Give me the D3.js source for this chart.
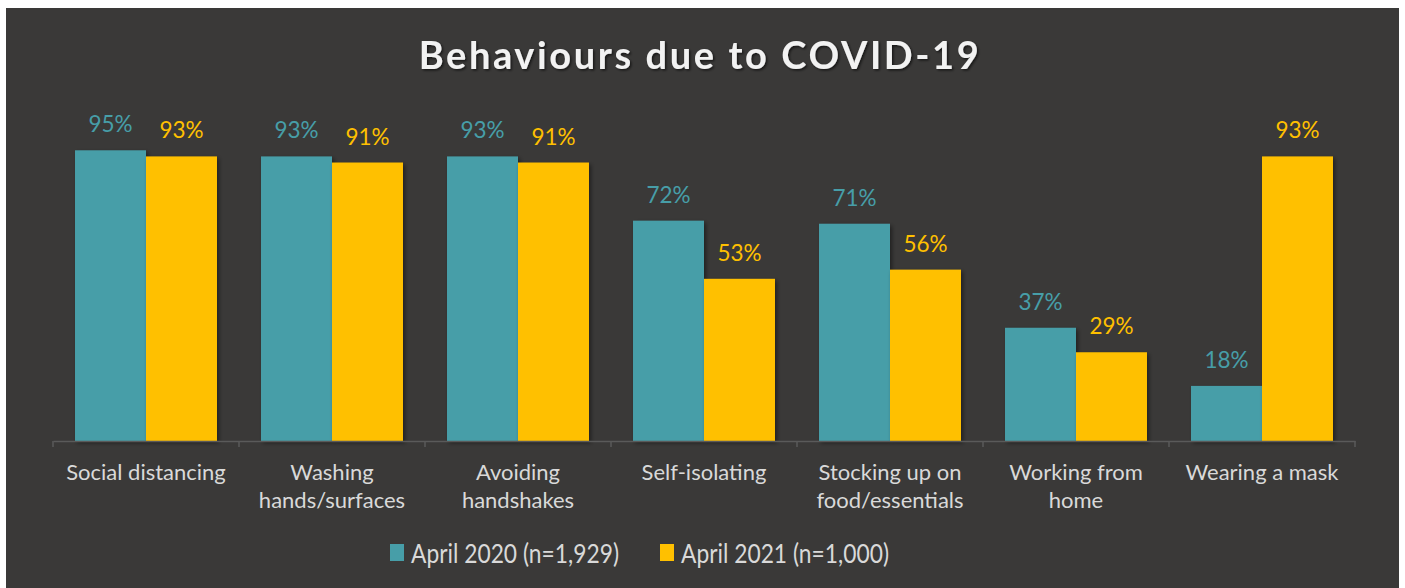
<!DOCTYPE html>
<html><head><meta charset="utf-8">
<script src="https://cdn.jsdelivr.net/npm/d3@7/dist/d3.min.js"></script>
<style>
html,body{margin:0;padding:0;background:#fff;}
svg{display:block;}
text{font-family:Lato,"Open Sans",sans-serif;}
</style></head>
<body>
<svg id="chart" width="1405" height="588"></svg>
<script>
const categories = [["Social distancing"],["Washing","hands/surfaces"],["Avoiding","handshakes"],["Self-isolating"],["Stocking up on","food/essentials"],["Working from","home"],["Wearing a mask"]];
const seriesNames = ["April 2020 (n=1,929)","April 2021 (n=1,000)"];
const values2020 = [95,93,93,72,71,37,18];
const values2021 = [93,91,91,53,56,29,93];
const colors = ["#479ea8","#ffc000"];
const title = "Behaviours due to COVID-19";

const svg = d3.select("#chart");
const defs = svg.append("defs");
const f = defs.append("filter").attr("id","sh").attr("x","-10%").attr("y","-10%").attr("width","130%").attr("height","130%");
f.append("feDropShadow").attr("dx",2).attr("dy",2).attr("stdDeviation",2).attr("flood-color","#000").attr("flood-opacity",0.45);
const ft = defs.append("filter").attr("id","tsh");
ft.append("feDropShadow").attr("dx",1.5).attr("dy",1.5).attr("stdDeviation",1.2).attr("flood-color","#000").attr("flood-opacity",0.6);

svg.append("rect").attr("x",6).attr("y",8).attr("width",1393).attr("height",580).attr("fill","#3a3938");

svg.append("text").attr("x",700).attr("y",69).attr("text-anchor","middle")
  .attr("font-size",38).attr("font-weight","bold").attr("letter-spacing",2.6)
  .attr("fill","#f2f2f2").attr("filter","url(#tsh)").text(title);

const idx = categories.map((d,i)=>i);
const x0 = d3.scaleBand().domain(idx).range([53,1355]).padding(0);
const x1 = d3.scaleBand().domain([0,1]).range([0,x0.bandwidth()]).paddingInner(0).paddingOuter(0.31);
const y = d3.scaleLinear().domain([0,100]).range([441,135]);

const data = idx.map(i=>[values2020[i],values2021[i]]);

const g = svg.append("g");
const groups = g.selectAll("g.grp").data(data).join("g").attr("transform",(d,i)=>`translate(${x0(i)},0)`);
groups.selectAll("rect").data(d=>d.map((v,s)=>({v,s}))).join("rect")
  .attr("x",d=>x1(d.s)).attr("width",x1.bandwidth())
  .attr("y",d=>y(d.v)).attr("height",d=>y(0)-y(d.v))
  .attr("fill",d=>colors[d.s]).attr("filter","url(#sh)");
groups.selectAll("text").data(d=>d.map((v,s)=>({v,s}))).join("text")
  .attr("x",d=>x1(d.s)+x1.bandwidth()/2).attr("y",d=>y(d.v)-18)
  .attr("text-anchor","middle").attr("font-size",22.5)
  .attr("fill",d=>colors[d.s]).text(d=>d.v+"%");

// axis
const axis = d3.axisBottom(x0).tickSize(0).tickFormat("");
const ag = svg.append("g").attr("transform","translate(0,441)").call(axis);
ag.select(".domain").attr("stroke","#5a5a5a").attr("stroke-width",1.5);
const bounds = idx.map(i=>x0(i)).concat([x0(idx.length-1)+x0.bandwidth()]);
ag.selectAll("line.tk").data(bounds).join("line").attr("class","tk")
  .attr("x1",d=>d).attr("x2",d=>d).attr("y1",0).attr("y2",6).attr("stroke","#5a5a5a").attr("stroke-width",1.5);

// category labels
const lab = svg.append("g");
lab.selectAll("text").data(categories).join("text")
  .attr("x",(d,i)=>x0(i)+x0.bandwidth()/2).attr("y",480)
  .attr("text-anchor","middle").attr("font-size",22).attr("fill","#d9d9d9")
  .each(function(d){
    const t=d3.select(this);
    d.forEach((line,k)=>t.append("tspan").attr("x",t.attr("x")).attr("dy",k?28:0).text(line));
  });

// legend
const leg = svg.append("g");
const legX = [390,660];
seriesNames.forEach((n,i)=>{
  leg.append("rect").attr("x",legX[i]).attr("y",544).attr("width",14).attr("height",17).attr("fill",colors[i]);
  leg.append("text").attr("x",legX[i]+21).attr("y",563).attr("font-size",27.5).attr("fill","#d9d9d9")
    .attr("textLength",208).attr("lengthAdjust","spacingAndGlyphs").text(n);
});
</script>
</body></html>
